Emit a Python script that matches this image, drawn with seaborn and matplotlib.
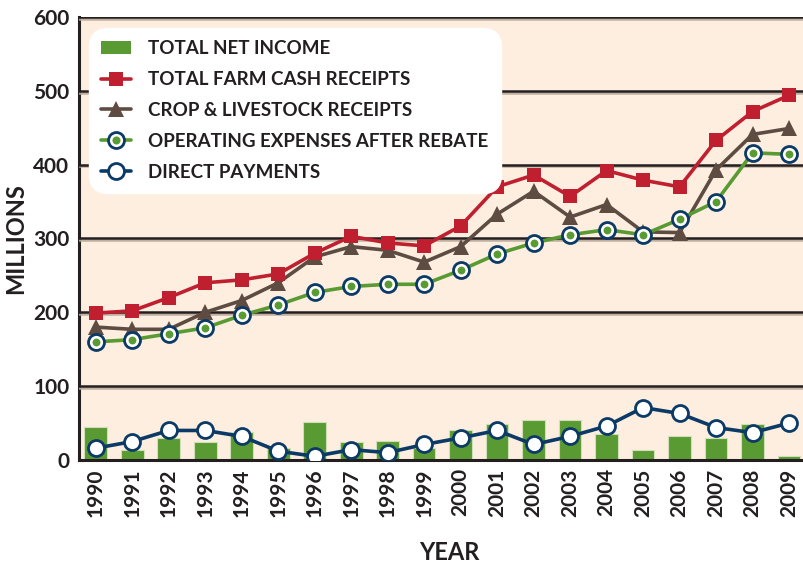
import matplotlib
matplotlib.use("Agg")
import matplotlib.pyplot as plt
import matplotlib.patheffects as pe
from matplotlib.lines import Line2D
from matplotlib.patches import Patch
from matplotlib.legend_handler import HandlerTuple
import seaborn as sns
import pandas as pd
import numpy as np

years = [str(y) for y in range(1990, 2010)]

net_income = [45, 13, 30, 24, 38, 16, 51, 24, 26, 16,
              40, 49, 54, 54, 35, 13, 32, 30, 49, 5]
cash_receipts = [199, 202, 220, 240, 244, 252, 280, 303, 294, 290,
                 317, 370, 386, 357, 392, 379, 370, 433, 472, 494]
crop_livestock = [180, 177, 177, 200, 216, 240, 275, 289, 284, 268,
                  289, 333, 364, 329, 346, 309, 308, 393, 441, 449]
operating_exp = [160, 163, 171, 179, 196, 210, 227, 235, 238, 238,
                 257, 279, 294, 305, 312, 305, 326, 350, 416, 414]
direct_payments = [16, 25, 40, 40, 32, 12, 5, 14, 10, 21,
                   30, 40, 21, 32, 46, 71, 63, 44, 37, 50]

RED = "#C01F2F"
BROWN = "#5E4B42"
GREEN = "#5A9A32"
NAVY = "#0B3A66"
INK = "#231F20"
BG = "#FDEEE0"

df = pd.DataFrame({
    "year": years,
    "pos": np.arange(len(years)),
    "net": net_income,
    "cash": cash_receipts,
    "crop": crop_livestock,
    "opex": operating_exp,
    "direct": direct_payments,
})

sns.set_style("white")
plt.rcParams["font.family"] = ["Lato", "DejaVu Sans"]

fig = plt.figure(figsize=(8.04, 5.63), dpi=100)
ax = fig.add_axes([79 / 804, 1 - 460 / 563, 1 - 79 / 804 + 0.02, (460 - 17) / 563])
ax.set_facecolor(BG)

sns.barplot(data=df, x="year", y="net", color=GREEN, saturation=1, width=0.62,
            edgecolor="#CFE0B8", linewidth=0.8, ax=ax, zorder=2)

shadow = [pe.SimpleLineShadow(offset=(0, -1.2), shadow_color="#B9A898", alpha=0.9), pe.Normal()]
for y in range(100, 700, 100):
    ax.axhline(y, color=INK, lw=1.8, zorder=3, path_effects=shadow)

lw = 2.6
sns.lineplot(data=df, x="pos", y="cash", color=RED, lw=lw, marker="s", markersize=10.5,
             markeredgewidth=0, ax=ax, zorder=6)
sns.lineplot(data=df, x="pos", y="crop", color=BROWN, lw=lw, marker="^", markersize=12,
             markeredgewidth=0, ax=ax, zorder=5)
sns.lineplot(data=df, x="pos", y="opex", color=GREEN, lw=lw, marker="o", markersize=11.5,
             markerfacecolor="white", markeredgecolor=NAVY, markeredgewidth=2,
             ax=ax, zorder=7)
sns.scatterplot(data=df, x="pos", y="opex", color=GREEN, s=32, linewidth=0, ax=ax, zorder=8)
sns.lineplot(data=df, x="pos", y="direct", color=NAVY, lw=lw, marker="o", markersize=11.5,
             markerfacecolor="white", markeredgecolor=NAVY, markeredgewidth=2,
             ax=ax, zorder=7)

ax.set_xlim(-0.46, 19.85)
ax.set_ylim(0, 600)
ax.set_yticks(range(0, 700, 100))
ax.set_xticks(range(len(years)))
ax.set_xticklabels(years, rotation=90, fontsize=15, fontweight="bold", color=INK)
ax.set_yticklabels([str(v) for v in range(0, 700, 100)], fontsize=15, fontweight="bold", color=INK)
ax.tick_params(axis="y", length=5, width=1.8, color=INK, pad=2)
ax.tick_params(axis="x", length=0, pad=6)
for side in ["left", "bottom"]:
    ax.spines[side].set_color(INK)
    ax.spines[side].set_linewidth(2.2)
ax.spines["top"].set_visible(False)
ax.spines["right"].set_visible(False)

ax.set_xlabel("YEAR", fontsize=17, fontweight="bold", color=INK, labelpad=17)
ax.set_ylabel("MILLIONS", fontsize=17, fontweight="bold", color=INK, labelpad=4)

handles = [
    Patch(facecolor=GREEN, edgecolor="none"),
    Line2D([], [], color=RED, lw=lw, marker="s", markersize=10.5, markeredgewidth=0),
    Line2D([], [], color=BROWN, lw=lw, marker="^", markersize=12, markeredgewidth=0),
    (Line2D([], [], color=GREEN, lw=lw, marker="o", markersize=11.5, markerfacecolor="white",
            markeredgecolor=NAVY, markeredgewidth=2),
     Line2D([], [], color=GREEN, lw=0, marker="o", markersize=5.8, markeredgewidth=0)),
    Line2D([], [], color=NAVY, lw=lw, marker="o", markersize=11.5, markerfacecolor="white",
           markeredgecolor=NAVY, markeredgewidth=2),
]
labels = ["TOTAL NET INCOME", "TOTAL FARM CASH RECEIPTS", "CROP & LIVESTOCK RECEIPTS",
          "OPERATING EXPENSES AFTER REBATE", "DIRECT PAYMENTS"]
leg = ax.legend(handles, labels, handler_map={tuple: HandlerTuple(ndivide=1)},
                loc="upper left", bbox_to_anchor=(89 / 804, 1 - 28 / 563),
                bbox_transform=fig.transFigure, borderaxespad=0, frameon=True,
                fancybox=True, framealpha=1, edgecolor="white", facecolor="white",
                fontsize=13.5, handlelength=1.6, handletextpad=0.9, labelspacing=0.74,
                borderpad=0.65)
leg.get_frame().set_boxstyle("round", pad=0, rounding_size=1.0)
leg.set_zorder(10)
for t in leg.get_texts():
    t.set_color(INK)
    t.set_fontweight("bold")

fig.savefig("out.png", dpi=100, facecolor="white")
